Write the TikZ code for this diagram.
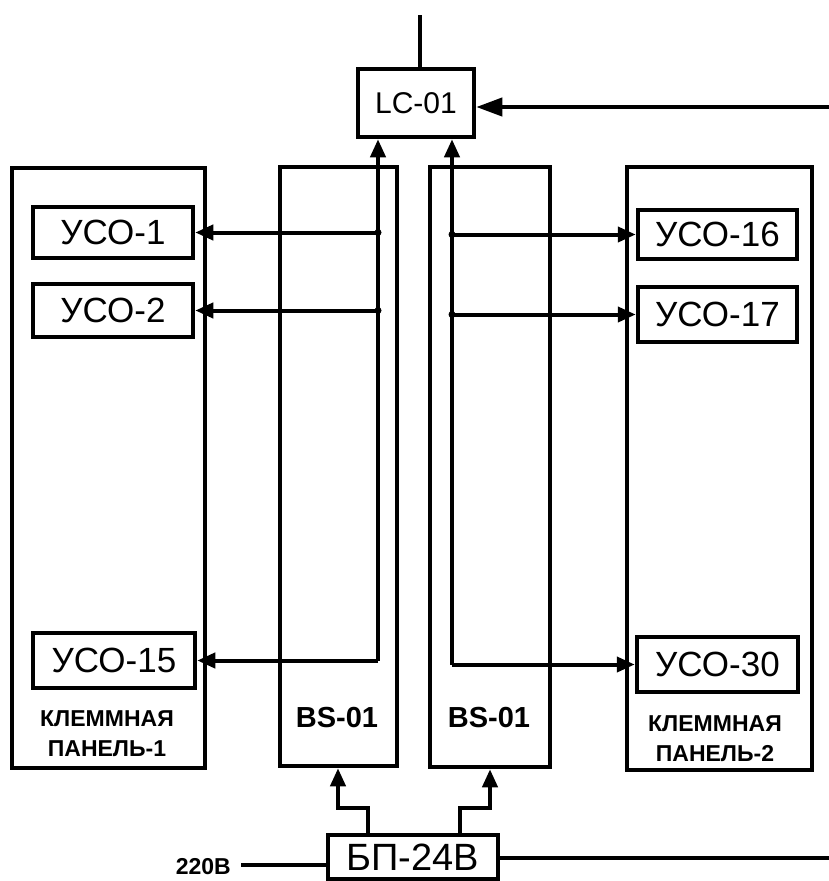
\documentclass[tikz,border=0pt]{standalone}
\usepackage{fontspec}
\setmainfont{Liberation Sans}
\usetikzlibrary{arrows.meta}
\begin{document}
\begin{tikzpicture}[x=1pt,y=-1pt,
  box/.style={draw,line width=4.5pt,inner sep=0pt,anchor=center},
  ln/.style={line width=4pt},
  arr/.style={line width=4pt,-{Triangle[length=18pt,width=15pt]}},
  bigarr/.style={line width=4pt,-{Triangle[length=26pt,width=18pt]}},
  uso/.style={box,font=\fontsize{35}{40}\selectfont},
  lbl/.style={inner sep=0pt,align=center,font=\bfseries\fontsize{23}{30}\selectfont},
  dot/.style={circle,fill,inner sep=0pt,minimum size=7pt}]
\useasboundingbox (0,0) rectangle (829,881);
% large boxes
\node[box,minimum width=193pt,minimum height=600pt] (p1) at (108.5,468) {};
\node[box,minimum width=117pt,minimum height=599pt] (bs1) at (338.5,466.5) {};
\node[box,minimum width=120pt,minimum height=600pt] (bs2) at (490,467) {};
\node[box,minimum width=185pt,minimum height=603pt] (p2) at (719.5,468.5) {};
% small boxes
\node[box,minimum width=116pt,minimum height=68pt,font=\fontsize{30}{36}\selectfont] (lc) at (416,103) {LC-01};
\node[uso,minimum width=160pt,minimum height=51pt] (u1) at (113,232.5) {УСО-1};
\node[uso,minimum width=160pt,minimum height=53pt] (u2) at (113,310.5) {УСО-2};
\node[uso,minimum width=162pt,minimum height=55pt] (u15) at (114,660.5) {УСО-15};
\node[uso,minimum width=159pt,minimum height=49pt] (u16) at (717.5,234.5) {УСО-16};
\node[uso,minimum width=159pt,minimum height=55pt] (u17) at (717.5,314.5) {УСО-17};
\node[uso,minimum width=161pt,minimum height=55pt] (u30) at (717.5,664.5) {УСО-30};
\node[box,minimum width=170pt,minimum height=44pt,font=\fontsize{38}{44}\selectfont] (bp) at (413,857) {БП-24В};
% labels
\node[lbl] (t1) at (107,734) {КЛЕММНАЯ\\ПАНЕЛЬ-1};
\node[lbl] (t2) at (715,739) {КЛЕММНАЯ\\ПАНЕЛЬ-2};
\node[inner sep=0pt,font=\bfseries\fontsize{29}{34}\selectfont] (b1l) at (337,718) {BS-01};
\node[inner sep=0pt,font=\bfseries\fontsize{29}{34}\selectfont] (b2l) at (489,718) {BS-01};
\node[inner sep=0pt,anchor=east,font=\bfseries\fontsize{23}{28}\selectfont] (v220) at (231,867) {220В};
% coordinates
\coordinate (lbx) at (378,0);
\coordinate (rbx) at (452,0);
\coordinate (ant) at (420,15);
\coordinate (rin) at (829,107);
\coordinate (out) at (829,858);
\coordinate (in220) at (241,865);
\coordinate (pla) at (368,808);
\coordinate (plb) at (338,808);
\coordinate (pra) at (460,808);
\coordinate (prb) at (490,808);
% LC-01 connections
\draw[ln] (ant) -- (ant |- lc.north);
\draw[bigarr] (rin) -- (rin -| lc.east);
% left bus
\draw[arr] (u15.east -| lbx) -- (lbx |- lc.south);
\draw[arr] (u1.east -| lbx) -- (u1.east);
\draw[arr] (u2.east -| lbx) -- (u2.east);
\draw[arr] (u15.east -| lbx) -- (u15.east);
\node[dot] (d1) at (u1.east -| lbx) {};
\node[dot] (d2) at (u2.east -| lbx) {};
% right bus
\draw[arr] (u30.west -| rbx) -- (rbx |- lc.south);
\draw[arr] (u16.west -| rbx) -- (u16.west);
\draw[arr] (u17.west -| rbx) -- (u17.west);
\draw[arr] (u30.west -| rbx) -- (u30.west);
\node[dot] (d3) at (u16.west -| rbx) {};
\node[dot] (d4) at (u17.west -| rbx) {};
% power
\draw[arr] (bp.north -| pla) -- (pla) -- (plb) -- (plb |- bs1.south);
\draw[arr] (bp.north -| pra) -- (pra) -- (prb) -- (prb |- bs2.south);
\draw[ln] (in220) -- (in220 -| bp.west);
\draw[ln] (bp.east |- out) -- (out);
\end{tikzpicture}
\end{document}
